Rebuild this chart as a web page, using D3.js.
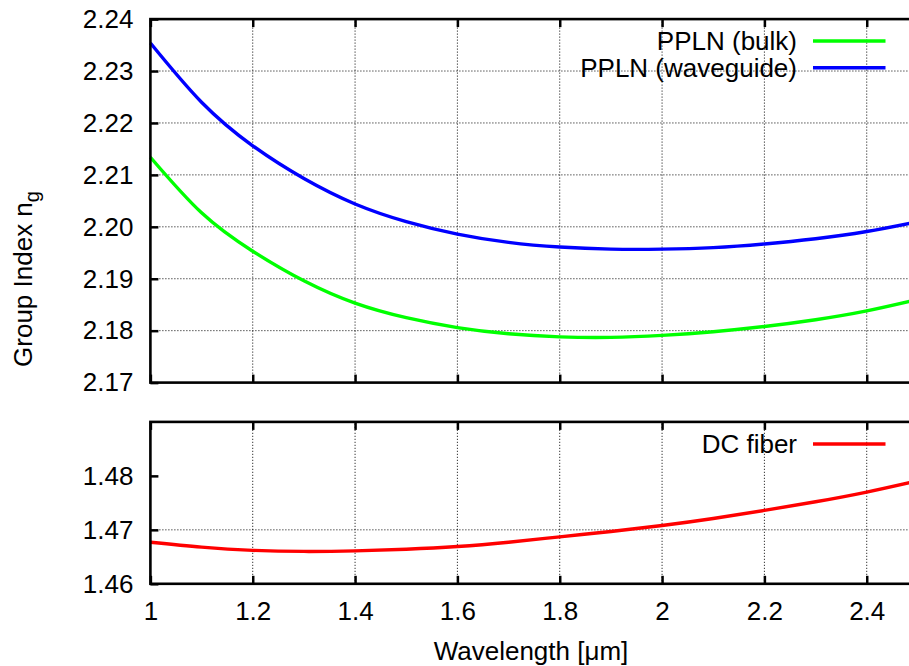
<!DOCTYPE html>
<html>
<head>
<meta charset="utf-8">
<script src="https://cdn.jsdelivr.net/npm/d3@7"></script>
<style>
  body { margin: 0; background: #fff; }
  text { font-family: "Liberation Sans", Arial, sans-serif; fill: #000; }
</style>
</head>
<body>
<script>
// wavelength samples in um
var wavelengths = [1.0, 1.1, 1.2, 1.3, 1.4, 1.5, 1.6, 1.7, 1.8, 1.9, 2.0, 2.1, 2.2, 2.3, 2.4, 2.5];
// group index
var pplnBulk = [2.2134, 2.2027, 2.1953, 2.1896, 2.1853, 2.1825, 2.1806, 2.1794, 2.1788, 2.1787, 2.1791, 2.1798, 2.1808, 2.1821, 2.1838, 2.1860];
var pplnWaveguide = [2.2354, 2.2240, 2.2156, 2.2093, 2.2044, 2.2010, 2.1986, 2.1970, 2.1961, 2.1957, 2.1957, 2.1960, 2.1967, 2.1977, 2.1991, 2.2010];
var dcFiber = [1.4677, 1.4668, 1.4662, 1.4660, 1.4661, 1.4664, 1.4669, 1.4677, 1.4687, 1.4697, 1.4708, 1.4721, 1.4736, 1.4752, 1.4770, 1.4791];

var xTicks = [1, 1.2, 1.4, 1.6, 1.8, 2, 2.2, 2.4];
var topYTicks = [2.17, 2.18, 2.19, 2.20, 2.21, 2.22, 2.23, 2.24];
var bottomYTicks = [1.46, 1.47, 1.48];

var topSeries = [
  { name: 'PPLN (bulk)', values: pplnBulk, color: '#00ff00' },
  { name: 'PPLN (waveguide)', values: pplnWaveguide, color: '#0000ff' }
];
var bottomSeries = [
  { name: 'DC fiber', values: dcFiber, color: '#ff0000' }
];

var width = 909, height = 666;
var svg = d3.select('body').append('svg')
  .attr('width', width)
  .attr('height', height);

var x = d3.scaleLinear().domain([1, 2.5]).range([150.4, 917.9]);
var yTop = d3.scaleLinear().domain([2.17, 2.24]).range([382.6, 19.1]);
var yBottom = d3.scaleLinear().domain([1.46, 1.49]).range([583.8, 421.9]);

function drawPanel(y, yTicks, series, showXLabels, legendY) {
  var g = svg.append('g');
  var y0 = y.range()[0], y1 = y.range()[1];
  var x0 = x.range()[0], x1 = x.range()[1];

  // dotted grid
  g.selectAll('.vgrid')
    .data(xTicks.filter(function (d) { return d > 1; }))
    .enter().append('line')
    .attr('x1', function (d) { return x(d); })
    .attr('x2', function (d) { return x(d); })
    .attr('y1', y0).attr('y2', y1)
    .attr('stroke', '#000').attr('stroke-width', 1)
    .attr('stroke-dasharray', '1,2');
  g.selectAll('.hgrid')
    .data(yTicks.slice(1, -1))
    .enter().append('line')
    .attr('x1', x0).attr('x2', x1)
    .attr('y1', function (d) { return y(d); })
    .attr('y2', function (d) { return y(d); })
    .attr('stroke', '#000').attr('stroke-width', 1)
    .attr('stroke-dasharray', '1,2');

  // curves
  var line = d3.line()
    .x(function (d, i) { return x(wavelengths[i]); })
    .y(function (d) { return y(d); })
    .curve(d3.curveNatural);
  g.selectAll('.curve')
    .data(series)
    .enter().append('path')
    .attr('d', function (d) { return line(d.values); })
    .attr('fill', 'none')
    .attr('stroke', function (d) { return d.color; })
    .attr('stroke-width', 3.4);

  // axes with inward ticks
  var left = g.append('g').attr('transform', 'translate(' + x0 + ',0)')
    .call(d3.axisLeft(y).tickValues(yTicks).tickSize(-8).tickPadding(17).tickFormat(d3.format('.2f')));
  var right = g.append('g').attr('transform', 'translate(' + x1 + ',0)')
    .call(d3.axisRight(y).tickValues(yTicks).tickSize(-8).tickFormat(''));
  var top = g.append('g').attr('transform', 'translate(0,' + y1 + ')')
    .call(d3.axisTop(x).tickValues(xTicks).tickSize(-8).tickFormat(''));
  var bottom = g.append('g').attr('transform', 'translate(0,' + y0 + ')')
    .call(d3.axisBottom(x).tickValues(xTicks).tickSize(-8).tickPadding(18)
      .tickFormat(showXLabels ? d3.format('') : ''));
  [left, right, top, bottom].forEach(function (a) {
    a.select('.domain').remove();
    a.selectAll('line').attr('stroke', '#000').attr('stroke-width', 2.5);
    a.selectAll('text').style('font-size', '26px').attr('fill', '#000');
  });

  // frame
  g.append('rect')
    .attr('x', x0).attr('y', y1)
    .attr('width', x1 - x0).attr('height', y0 - y1)
    .attr('fill', 'none').attr('stroke', '#000').attr('stroke-width', 2.6);

  // legend
  var leg = g.selectAll('.legend')
    .data(series)
    .enter().append('g')
    .attr('transform', function (d, i) { return 'translate(0,' + (legendY + i * 26.7) + ')'; });
  leg.append('text')
    .attr('x', 797).attr('y', 9)
    .attr('text-anchor', 'end')
    .style('font-size', '26px')
    .text(function (d) { return d.name; });
  leg.append('line')
    .attr('x1', 813).attr('x2', 885.5)
    .attr('y1', 0).attr('y2', 0)
    .attr('stroke', function (d) { return d.color; })
    .attr('stroke-width', 3.4);
}

drawPanel(yTop, topYTicks, topSeries, false, 41);
drawPanel(yBottom, bottomYTicks, bottomSeries, true, 444);

// axis titles
var ylab = svg.append('text')
  .attr('transform', 'translate(32,279) rotate(-90)')
  .attr('text-anchor', 'middle')
  .style('font-size', '26px');
ylab.append('tspan').text('Group Index n');
ylab.append('tspan').attr('dy', 7).style('font-size', '20px').text('g');

svg.append('text')
  .attr('x', 531).attr('y', 660)
  .attr('text-anchor', 'middle')
  .style('font-size', '26px')
  .text('Wavelength [μm]');
</script>
</body>
</html>
